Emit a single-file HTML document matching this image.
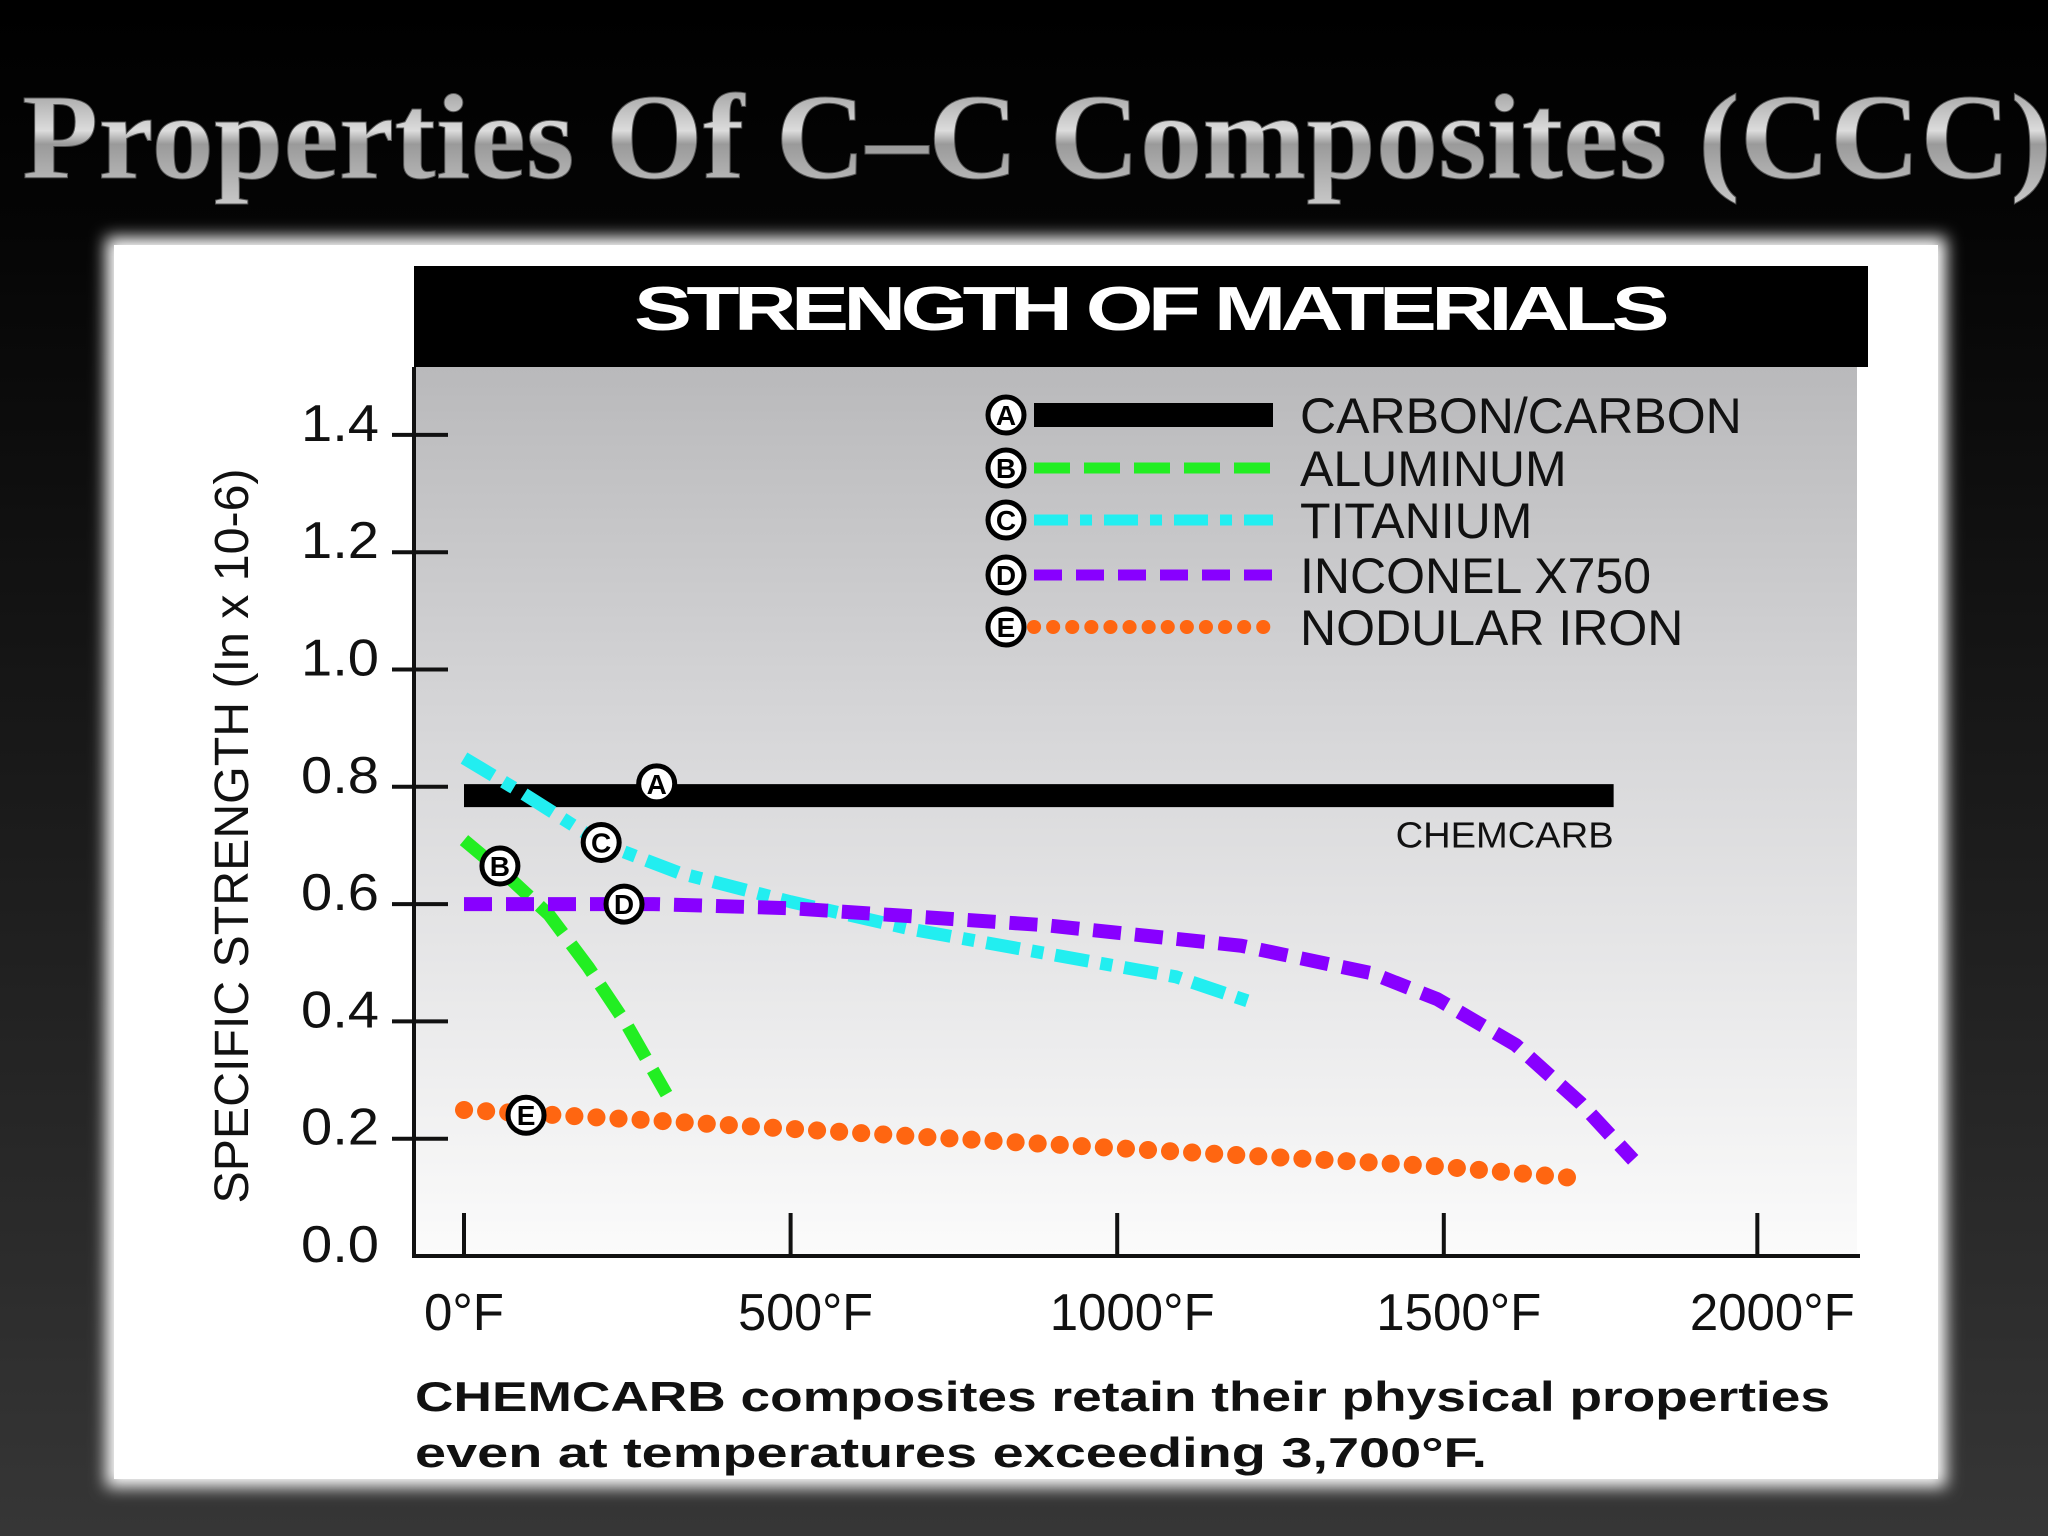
<!DOCTYPE html>
<html><head><meta charset="utf-8"><style>
html,body{margin:0;padding:0;width:2048px;height:1536px;overflow:hidden;background:#000}
svg{display:block}
</style></head><body>
<svg id="chart" width="2048" height="1536" viewBox="0 0 2048 1536" xmlns="http://www.w3.org/2000/svg">
<defs>
<linearGradient id="bg" x1="0" y1="0" x2="0" y2="1"><stop offset="0" stop-color="#000"/><stop offset="0.15" stop-color="#050505"/><stop offset="1" stop-color="#363636"/></linearGradient>
<linearGradient id="tg" x1="0" y1="0" x2="0" y2="1"><stop offset="0" stop-color="#8a8a8a"/><stop offset="0.45" stop-color="#dcdcdc"/><stop offset="0.55" stop-color="#9a9a9a"/><stop offset="1" stop-color="#c8c8c8"/></linearGradient>
<linearGradient id="pg" x1="0" y1="0" x2="0" y2="1"><stop offset="0" stop-color="#b9b9bb"/><stop offset="0.4" stop-color="#d6d6d8"/><stop offset="1" stop-color="#fbfbfb"/></linearGradient>
<filter id="glow" x="-5%" y="-5%" width="110%" height="110%"><feGaussianBlur stdDeviation="8"/></filter>
</defs>
<rect x="0" y="0" width="2048" height="1536" fill="url(#bg)"/>
<text x="22" y="178" font-family="Liberation Serif, serif" font-weight="bold" font-size="122" fill="url(#tg)" stroke="#555" stroke-width="1" textLength="2030" lengthAdjust="spacingAndGlyphs">Properties Of C–C Composites (CCC)</text>
<rect x="106" y="237" width="1840" height="1250" fill="#fff" filter="url(#glow)"/>
<rect x="114" y="245" width="1824" height="1234" fill="#fff"/>
<rect x="414" y="266" width="1454" height="101" fill="#000"/>
<text x="1149" y="330" text-anchor="middle" font-family="Liberation Sans, sans-serif" font-weight="bold" font-size="62" fill="#fff" textLength="1030" lengthAdjust="spacingAndGlyphs" letter-spacing="-4">STRENGTH OF MATERIALS</text>
<rect x="414" y="367" width="1443" height="889" fill="url(#pg)"/>
<g id="axes"></g>
<g id="series"></g>
<g id="legend"></g>
<text transform="translate(248,836) rotate(-90)" text-anchor="middle" font-family="Liberation Sans, sans-serif" font-size="48" fill="#111" textLength="735" lengthAdjust="spacingAndGlyphs">SPECIFIC STRENGTH (In x 10-6)</text>
<text x="415" y="1411" font-family="Liberation Sans, sans-serif" font-weight="bold" font-size="42" fill="#111" textLength="1415" lengthAdjust="spacingAndGlyphs">CHEMCARB composites retain their physical properties</text>
<text x="415" y="1467" font-family="Liberation Sans, sans-serif" font-weight="bold" font-size="42" fill="#111" textLength="1072" lengthAdjust="spacingAndGlyphs">even at temperatures exceeding 3,700°F.</text>
</svg>
<script>
const yTicks=[0.0,0.2,0.4,0.6,0.8,1.0,1.2,1.4];
const yTickLabels=["0.0","0.2","0.4","0.6","0.8","1.0","1.2","1.4"];
const xTicks=[0,500,1000,1500,1980];
const xTickLabels=["0°F","500°F","1000°F","1500°F","2000°F"];
const carbonT=[0,1760];
const carbonV=[0.785,0.785];
const aluminumT=[0,70,130,190,250,310];
const aluminumV=[0.709,0.644,0.582,0.493,0.393,0.276];
const titaniumT=[0,90,210,330,500,690,890,1090,1210];
const titaniumV=[0.849,0.789,0.704,0.653,0.604,0.556,0.516,0.476,0.431];
const inconelT=[0,290,500,890,1190,1390,1490,1610,1710,1790];
const inconelV=[0.6,0.6,0.593,0.564,0.529,0.482,0.438,0.36,0.26,0.164];
const ironT=[0,290,690,1090,1490,1720];
const ironV=[0.249,0.231,0.204,0.178,0.153,0.131];
const markerLetters=["A","B","C","D","E"];
const markerT=[295,55,210,245,95];
const markerV=[0.805,0.665,0.705,0.6,0.24];
const legendLabels=["CARBON/CARBON","ALUMINUM","TITANIUM","INCONEL X750","NODULAR IRON"];

const NS="http://www.w3.org/2000/svg";
const X=t=>464+t*0.6532;
const Y=v=>1256-v*586.5;
function mk(tag,attrs,parent){const e=document.createElementNS(NS,tag);for(const k in attrs)e.setAttribute(k,attrs[k]);parent.appendChild(e);return e;}
const axes=document.getElementById('axes'),series=document.getElementById('series'),legend=document.getElementById('legend');
let e;
e=mk('line',{x1:414,y1:367,x2:414,y2:1258,stroke:'#111','stroke-width':4},axes);


e=mk('line',{x1:412,y1:1256,x2:1860,y2:1256,stroke:'#111','stroke-width':4},axes);


yTicks.forEach((v,i)=>{
  if(i>0){e=mk('line',{x1:392,y1:Y(v),x2:448,y2:Y(v),stroke:'#111','stroke-width':4},axes);
  
  }
  e=mk('text',{x:379,y:Y(v)+6,'text-anchor':'end','font-family':'Liberation Sans, sans-serif','font-size':52,fill:'#111',textLength:78,lengthAdjust:'spacingAndGlyphs'},axes);
  e.textContent=yTickLabels[i];
  
  
});
xTicks.forEach((t,i)=>{
  e=mk('line',{x1:X(t),y1:1213,x2:X(t),y2:1256,stroke:'#111','stroke-width':4},axes);
  
  
  e=mk('text',{x:X(t)+(i==0?0:15),y:1330,'text-anchor':'middle','font-family':'Liberation Sans, sans-serif','font-size':52,fill:'#111',textLength:(i==0?80:i==1?135:165),lengthAdjust:'spacingAndGlyphs'},axes);
  e.textContent=xTickLabels[i];
  
  
});
function pts(T,V){return T.map((t,i)=>X(t)+','+Y(V[i])).join(' ');}
const styles=[
 {name:'carbon-carbon-line',T:carbonT,V:carbonV,stroke:'#000',w:23,dash:'',cap:'butt'},
 {name:'aluminum-line',T:aluminumT,V:aluminumV,stroke:'#22ee22',w:13,dash:'36 14',cap:'butt'},
 {name:'titanium-line',T:titaniumT,V:titaniumV,stroke:'#22eef0',w:13,dash:'34 12 12 12',cap:'butt'},
 {name:'inconel-line',T:inconelT,V:inconelV,stroke:'#8800ff',w:14,dash:'28 14',cap:'butt'},
 {name:'nodular-iron-line',T:ironT,V:ironV,stroke:'#ff6611',w:18,dash:'0.1 22',cap:'round'}
];
styles.forEach(s=>{
  e=mk('polyline',{points:pts(s.T,s.V),fill:'none',stroke:s.stroke,'stroke-width':s.w,'stroke-dasharray':s.dash,'stroke-linecap':s.cap,'stroke-linejoin':'round'},series);
  
  
});
e=mk('text',{x:X(carbonT[1]),y:Y(carbonV[1])+52,'text-anchor':'end','font-family':'Liberation Sans, sans-serif','font-size':36,fill:'#111',textLength:218,lengthAdjust:'spacingAndGlyphs'},series);
e.textContent='CHEMCARB';


function marker(cx,cy,L,parent){
  const g=mk('g',{},parent);
  mk('circle',{cx:cx,cy:cy,r:18,fill:'#fff',stroke:'#000','stroke-width':5},g);
  const t=mk('text',{x:cx,y:cy+10,'text-anchor':'middle','font-family':'Liberation Sans, sans-serif','font-weight':'bold','font-size':28,fill:'#000'},g);
  t.textContent=L;
  return g;
}
markerLetters.forEach((L,i)=>{
  e=marker(X(markerT[i]),Y(markerV[i]),L,series);
  
  
});
const ly=[415,468,520,575,627];
styles.forEach((s,i)=>{
  const g=mk('g',{},legend);
  
  
  mk('line',{x1:1034,y1:ly[i],x2:1273,y2:ly[i],stroke:s.stroke,'stroke-width':i==0?24:i==4?14:11,'stroke-dasharray':i==4?'0.1 19':s.dash,'stroke-linecap':s.cap},g);
  marker(1006,ly[i],markerLetters[i],g);
  const t=mk('text',{x:1300,y:ly[i]+18,'font-family':'Liberation Sans, sans-serif','font-size':50,fill:'#111'},g);
  t.textContent=legendLabels[i];
});
</script>
</body></html>
